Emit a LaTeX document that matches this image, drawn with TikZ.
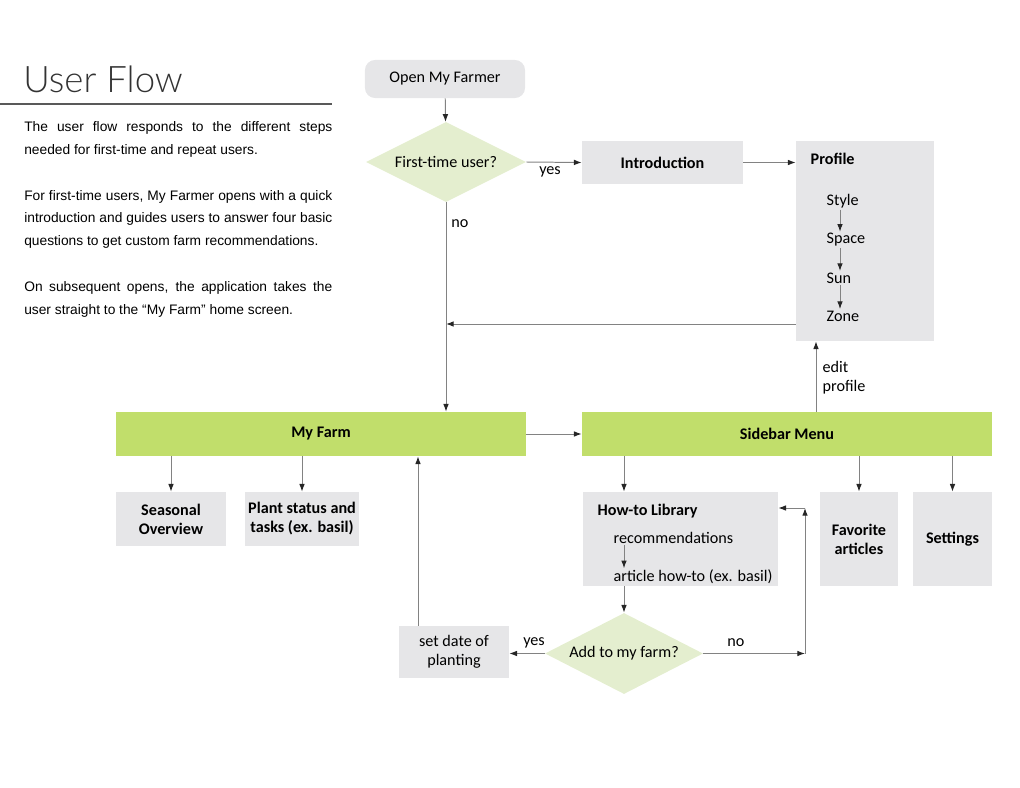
\documentclass[tikz,border=0pt]{standalone}
\usepackage{fontspec}
\setmainfont{Carlito}
\newfontfamily\parafont{Liberation Sans}
\IfFontExistsTF{Lato Light}{\newfontfamily\titlefont{Lato Light}}{\newfontfamily\titlefont{Lato}}
\usepackage{tikz}
\usetikzlibrary{positioning,shapes.geometric,arrows.meta}
\definecolor{BoxGray}{RGB}{230,230,232}
\definecolor{FarmGreen}{RGB}{193,222,107}
\definecolor{PaleGreen}{RGB}{228,238,207}
\definecolor{LineGray}{RGB}{130,130,130}
\newcommand{\flowsize}{\fontsize{11.5}{13.5}\selectfont}
\tikzset{
    stepbox/.style={fill=BoxGray, inner sep=2pt, align=center, font=\flowsize\bfseries},
    plainbox/.style={fill=BoxGray, inner sep=2pt, align=center, font=\flowsize},
    menubar/.style={fill=FarmGreen, minimum width=10.25cm, minimum height=1.1cm, font=\flowsize\bfseries},
    question/.style={diamond, aspect=2, fill=PaleGreen, inner sep=0pt, font=\flowsize},
    flowtext/.style={inner sep=1pt, font=\flowsize},
    arr/.style={draw=LineGray, line width=0.7pt, -{Latex[length=5.5pt,width=4pt,color=black!85]}}
}

\begin{document}
\begin{tikzpicture}[
        x=0.025cm, y=-0.025cm,
        % Style for the text block on the left
        blurb/.style={
            anchor=north west,
            inner sep=0pt,
            text width=7.7cm,
            align=justify,
            font=\parafont\fontsize{9.8}{16.3}\selectfont
        }
    ]
        \useasboundingbox (0,0) rectangle (1020,788);

        % --- 1. TITLE AND TEXT ---
        \node[anchor=base west, inner sep=0pt, text=black!80,
              font=\titlefont\fontsize{26}{30}\selectfont] (title) at (23,93) {User Flow};
        \draw[draw=black!65, line width=0.8pt] (0,104) -- (332,104);

        \node[blurb] (blurb) at (24,121) {The user flow responds to the different steps\linebreak
            needed for first-time and repeat users.\par\vspace{16.3pt}
            For first-time users, My Farmer opens with a quick\linebreak
            introduction and guides users to answer four basic\linebreak
            questions to get custom farm recommendations.\par\vspace{16.3pt}
            On subsequent opens, the application takes the\linebreak
            user straight to the “My Farm” home screen.};

        % --- 2. START, FIRST QUESTION, PROFILE ---
        \node[plainbox, rounded corners=0.25cm, minimum width=4cm, minimum height=0.95cm] (open) at (445,79) {Open My Farmer};
        \node[question, minimum width=4cm, minimum height=2cm] (first) at (446,162) {First-time user?};
        \node[stepbox, minimum width=4.025cm, minimum height=1.075cm] (intro) at (662.5,162.5) {Introduction};
        \node[stepbox, minimum width=3.45cm, minimum height=5cm] (profile) at (865,241) {};

        \node[flowtext, anchor=west, font=\flowsize\bfseries] (proftitle) at (809,159) {Profile};
        \node[flowtext, anchor=west] (style) at (825,201) {Style};
        \node[flowtext, anchor=west] (space) at (825,240) {Space};
        \node[flowtext, anchor=west] (sun) at (825,278) {Sun};
        \node[flowtext, anchor=west] (zone) at (825,316) {Zone};
        \coordinate (profx) at (840,0);

        % --- 3. MAIN SCREENS ---
        \node[menubar] (myfarm) at (321,434) {My Farm};
        \node[menubar] (sidebar) at (787,434) {Sidebar Menu};

        \node[stepbox, minimum width=2.75cm, minimum height=1.35cm] (seasonal) at (171,519) {Seasonal\\Overview};
        \node[stepbox, minimum width=2.75cm, minimum height=1.35cm] (plant) at (302,519) {Plant status and\\tasks (ex. basil)};

        \node[stepbox, minimum width=4.875cm, minimum height=2.35cm] (howto) at (680.5,539) {};
        \node[flowtext, anchor=west, font=\flowsize\bfseries] (libtitle) at (596,511) {How-to Library};
        \node[flowtext, anchor=west] (recs) at (612,538) {recommendations};
        \node[flowtext, anchor=west] (article) at (612,577) {article how-to (ex. basil)};
        \node[stepbox, minimum width=1.95cm, minimum height=2.35cm] (favs) at (859,539) {Favorite\\articles};
        \node[stepbox, minimum width=1.975cm, minimum height=2.35cm] (settings) at (952.5,539) {Settings};

        \node[question, minimum width=3.95cm, minimum height=2.025cm] (addfarm) at (624,653.5) {Add to my farm?};
        \node[plainbox, minimum width=2.75cm, minimum height=1.3cm] (setdate) at (454,652) {set date of\\planting};

        % --- 4. CONNECTORS ---
        \coordinate (editx) at (816,0);
        \coordinate (libx) at (624,0);
        \coordinate (upx) at (418,0);
        \coordinate (backy) at (0,324);
        \coordinate (nobot) at (805,653.5);
        \coordinate (notop) at (805,508);

        \draw[arr] (open) -- (first);
        \draw[arr] (first.east) -- (intro.west);
        \draw[arr] (intro.east) -- (intro.east -| profile.west);
        \draw[arr] (style.south -| profx) -- (space.north -| profx);
        \draw[arr] (space.south -| profx) -- (sun.north -| profx);
        \draw[arr] (sun.south -| profx) -- (zone.north -| profx);
        \draw[arr] (profile.west |- backy) -- (first.south |- backy);
        \draw[arr] (first.south) -- (first.south |- myfarm.north);

        \draw[arr] (myfarm.east) -- (sidebar.west);
        \draw[arr] (sidebar.north -| editx) -- (profile.south -| editx);
        \draw[arr] (myfarm.south -| seasonal) -- (seasonal);
        \draw[arr] (myfarm.south -| plant) -- (plant);
        \draw[arr] (sidebar.south -| libx) -- (howto.north -| libx);
        \draw[arr] (sidebar.south -| favs) -- (favs);
        \draw[arr] (sidebar.south -| settings) -- (settings);

        \draw[arr] (recs.south -| libx) -- (article.north -| libx);
        \draw[arr] (howto.south -| libx) -- (addfarm.north);
        \draw[arr] (addfarm.east) -- (nobot);
        \draw[arr] (nobot) -- (notop);
        \draw[arr] (notop) -- (notop -| howto.east);
        \draw[arr] (addfarm.west) -- (addfarm.west -| setdate.east);
        \draw[arr] (setdate.north -| upx) -- (myfarm.south -| upx);

        % --- 5. CONNECTOR LABELS ---
        \node[flowtext] (yes1) at (550,172) {yes};
        \node[flowtext] (no1) at (460,224) {no};
        \node[flowtext, anchor=west, align=left] (editlbl) at (821,378) {edit\\profile};
        \node[flowtext] (yes2) at (534,643) {yes};
        \node[flowtext] (no2) at (736,643) {no};

    \end{tikzpicture}
\end{document}
